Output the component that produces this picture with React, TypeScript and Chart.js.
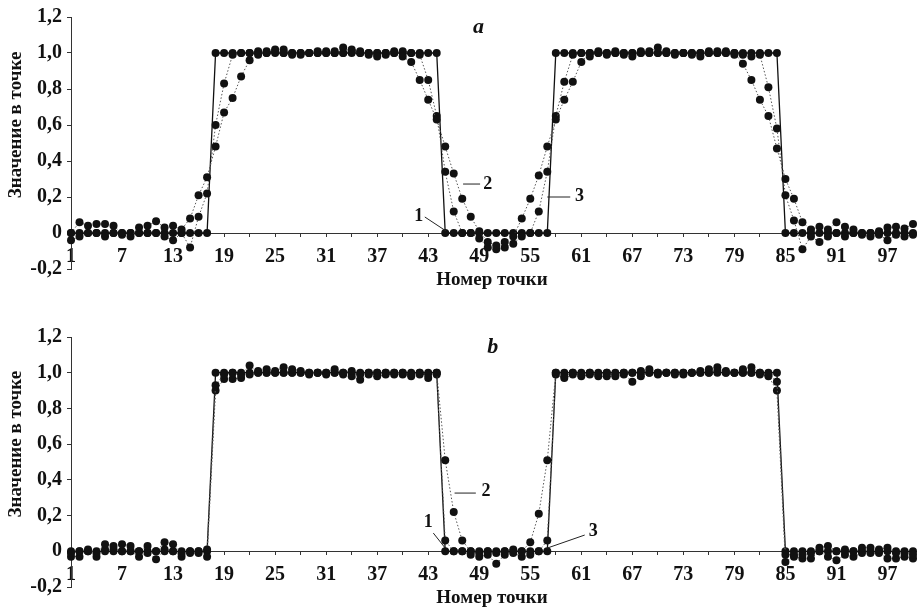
import React, { useEffect, useRef } from 'react';
import { Chart, registerables } from 'chart.js';

Chart.register(...registerables);

// point numbers (categories) 1..100
const POINTS: number[] = Array.from({ length: 100 }, (_, i) => i + 1);
const X_TICK_LABELS: number[] = [1, 7, 13, 19, 25, 31, 37, 43, 49, 55, 61, 67, 73, 79, 85, 91, 97];
const Y_MIN = -0.2;
const Y_MAX = 1.2;
const Y_STEP = 0.2;

// series 1: ideal signal (both panels)
const IDEAL: number[] = [
  0, 0, 0, 0, 0, 0, 0, 0, 0, 0,
  0, 0, 0, 0, 0, 0, 0, 1, 1, 1,
  1, 1, 1, 1, 1, 1, 1, 1, 1, 1,
  1, 1, 1, 1, 1, 1, 1, 1, 1, 1,
  1, 1, 1, 1, 0, 0, 0, 0, 0, 0,
  0, 0, 0, 0, 0, 0, 0, 1, 1, 1,
  1, 1, 1, 1, 1, 1, 1, 1, 1, 1,
  1, 1, 1, 1, 1, 1, 1, 1, 1, 1,
  1, 1, 1, 1, 0, 0, 0, 0, 0, 0,
  0, 0, 0, 0, 0, 0, 0, 0, 0, 0,
];

// panel a, series 2
const A_S2: number[] = [
  0.00, 0.06, 0.04, 0.05, 0.05, 0.04, 0.00, -0.02, 0.03, 0.04,
  0.065, 0.03, 0.04, 0.02, 0.08, 0.21, 0.31, 0.48, 0.67, 0.75,
  0.87, 0.96, 0.99, 1.01, 1.01, 1.00, 0.99, 1.00, 1.00, 1.01,
  1.00, 1.01, 1.03, 1.01, 1.00, 0.99, 0.98, 1.00, 1.00, 0.98,
  0.95, 0.85, 0.74, 0.63, 0.48, 0.33, 0.19, 0.09, 0.01, -0.05,
  -0.07, -0.05, -0.02, 0.08, 0.19, 0.32, 0.48, 0.63, 0.74, 0.84,
  0.95, 1.00, 1.00, 0.99, 1.01, 1.00, 0.98, 1.00, 1.01, 1.03,
  1.00, 1.00, 1.00, 0.99, 0.98, 1.00, 1.01, 1.01, 1.00, 0.94,
  0.85, 0.74, 0.65, 0.47, 0.30, 0.19, 0.06, 0.02, 0.035, 0.02,
  0.06, 0.035, 0.02, 0.00, 0.00, 0.01, 0.03, 0.035, 0.025, 0.05,
];

// panel a, series 3
const A_S3: number[] = [
  -0.04, -0.02, 0.00, 0.00, -0.02, 0.00, -0.01, 0.00, 0.00, 0.00,
  0.00, -0.02, -0.04, 0.00, -0.08, 0.09, 0.22, 0.60, 0.83, 0.99,
  1.00, 1.00, 1.01, 1.00, 1.02, 1.02, 1.00, 0.99, 1.00, 1.00,
  1.01, 1.00, 1.00, 1.02, 1.01, 1.00, 1.00, 0.99, 1.01, 1.01,
  1.00, 0.99, 0.85, 0.65, 0.34, 0.12, 0.00, 0.00, -0.03, -0.08,
  -0.09, -0.08, -0.06, -0.02, 0.00, 0.12, 0.34, 0.65, 0.84, 0.99,
  1.00, 0.98, 1.01, 1.00, 1.00, 0.99, 1.00, 1.01, 1.00, 1.00,
  1.01, 0.99, 1.00, 1.00, 1.00, 1.01, 1.00, 1.00, 0.99, 0.99,
  0.98, 0.99, 0.81, 0.58, 0.21, 0.07, -0.09, -0.02, -0.05, -0.02,
  0.00, -0.02, 0.00, -0.01, -0.02, -0.01, -0.04, -0.01, -0.02, -0.01,
];

// panel b, series 2
const B_S2: number[] = [
  -0.01, 0.00, 0.01, -0.01, 0.04, 0.03, 0.04, 0.03, 0.00, 0.03,
  0.00, 0.05, 0.04, -0.01, 0.00, 0.00, 0.01, 0.93, 0.99, 1.00,
  0.99, 1.04, 1.00, 1.02, 1.01, 1.03, 1.02, 1.01, 1.00, 1.00,
  1.00, 1.02, 1.00, 1.01, 0.99, 1.00, 1.00, 1.00, 1.00, 1.00,
  0.99, 1.00, 0.97, 1.00, 0.51, 0.22, 0.06, 0.00, -0.01, 0.00,
  -0.01, 0.00, 0.01, 0.00, 0.05, 0.21, 0.51, 1.00, 0.98, 1.00,
  0.99, 1.00, 0.99, 1.00, 0.99, 1.00, 1.00, 1.01, 1.02, 1.00,
  1.00, 0.99, 1.00, 1.00, 1.01, 1.02, 1.03, 1.01, 1.00, 1.02,
  1.03, 1.00, 0.99, 0.95, -0.02, -0.02, -0.02, -0.01, 0.02, 0.03,
  0.00, 0.01, 0.00, 0.02, 0.02, 0.01, 0.02, -0.01, -0.01, -0.02,
];

// panel b, series 3
const B_S3: number[] = [
  -0.03, -0.03, 0.00, -0.03, 0.01, 0.01, 0.00, 0.00, -0.03, -0.01,
  -0.045, 0.01, 0.00, -0.03, -0.01, -0.01, -0.03, 0.90, 0.965, 0.965,
  0.97, 0.99, 1.01, 1.00, 1.00, 1.00, 1.00, 1.00, 0.99, 1.00,
  0.99, 1.00, 0.99, 0.98, 0.96, 0.99, 0.98, 0.99, 0.99, 0.99,
  0.98, 0.99, 0.99, 0.99, 0.06, 0.00, 0.00, -0.02, -0.03, -0.02,
  -0.07, -0.02, -0.01, -0.03, -0.02, 0.00, 0.06, 0.99, 0.97, 0.99,
  0.98, 0.99, 0.98, 0.98, 0.98, 0.99, 0.95, 0.98, 1.00, 0.99,
  1.00, 1.00, 0.99, 1.00, 1.00, 1.00, 1.01, 1.00, 1.00, 1.00,
  1.00, 0.99, 0.98, 0.90, -0.06, -0.03, -0.04, -0.04, 0.00, -0.03,
  -0.05, -0.02, -0.03, -0.01, -0.01, -0.01, -0.04, -0.04, -0.03, -0.04,
];

const SERIF = "'Liberation Serif', 'DejaVu Serif', serif";
const INK = '#111';

type Annot = { text: string; tx: number; ty: number; line: [number, number, number, number] };

const ANNOTS_A: Annot[] = [
  { text: '1', tx: 41.9, ty: 0.094, line: [42.6, 0.089, 45.1, 0.011] },
  { text: '2', tx: 50.0, ty: 0.272, line: [47.1, 0.272, 49.1, 0.272] },
  { text: '3', tx: 60.8, ty: 0.206, line: [57.0, 0.2, 59.7, 0.2] },
];
const ANNOTS_B: Annot[] = [
  { text: '1', tx: 43.0, ty: 0.164, line: [43.6, 0.102, 45.0, 0.018] },
  { text: '2', tx: 49.8, ty: 0.338, line: [46.1, 0.326, 48.6, 0.326] },
  { text: '3', tx: 62.4, ty: 0.114, line: [57.0, 0.018, 61.4, 0.091] },
];

function fmtY(v: number): string {
  if (Math.abs(v) < 1e-9) return '0';
  return v.toFixed(1).replace('.', ',');
}

function makeOverlay(letter: string, lx: number, ly: number, annots: Annot[]) {
  return {
    id: 'overlay',
    afterDraw(chart: any) {
      const { ctx, scales } = chart;
      const xs = scales.x;
      const ys = scales.y;
      const px = (i: number) => xs.left + ((i - 1) / (POINTS.length - 1)) * (xs.right - xs.left);
      ctx.save();
      ctx.fillStyle = INK;
      ctx.textAlign = 'center';
      ctx.textBaseline = 'middle';
      // panel letter
      ctx.font = `italic bold 22px ${SERIF}`;
      ctx.fillText(letter, px(lx), ys.getPixelForValue(ly));
      // annotations
      ctx.font = `bold 18px ${SERIF}`;
      ctx.strokeStyle = '#222';
      ctx.lineWidth = 1;
      for (const a of annots) {
        ctx.fillText(a.text, px(a.tx), ys.getPixelForValue(a.ty));
        ctx.beginPath();
        ctx.moveTo(px(a.line[0]), ys.getPixelForValue(a.line[1]));
        ctx.lineTo(px(a.line[2]), ys.getPixelForValue(a.line[3]));
        ctx.stroke();
      }
      // y axis title
      ctx.save();
      ctx.translate(16.5, ys.getPixelForValue(0.6));
      ctx.rotate(-Math.PI / 2);
      ctx.font = `bold 19px ${SERIF}`;
      ctx.fillText('Значение в точке', 0, 0);
      ctx.restore();
      ctx.restore();
    },
  };
}

type PanelProps = {
  s2: number[];
  s3: number[];
  letter: string;
  letterX: number;
  letterY: number;
  annots: Annot[];
  height: number;
  padTop: number;
  padBottom: number;
};

function Panel(p: PanelProps) {
  const ref = useRef<HTMLCanvasElement | null>(null);
  useEffect(() => {
    if (!ref.current) return;
    const font = { family: SERIF, size: 20, weight: 'bold' };
    const pointStyle = {
      pointRadius: 4,
      pointHoverRadius: 4,
      pointBackgroundColor: INK,
      pointBorderColor: INK,
      pointBorderWidth: 0,
    };
    const chart = new Chart(ref.current, {
      type: 'line',
      data: {
        labels: POINTS.map(String),
        datasets: [
          { label: '2', data: p.s2, borderColor: '#555', borderWidth: 1, borderDash: [1.5, 2], tension: 0, clip: false, ...pointStyle },
          { label: '3', data: p.s3, borderColor: '#555', borderWidth: 1, borderDash: [1.5, 2], tension: 0, clip: false, ...pointStyle },
          { label: '1', data: IDEAL, borderColor: INK, borderWidth: 1.3, tension: 0, clip: false, ...pointStyle },
        ],
      },
      options: {
        responsive: false,
        animation: false,
        events: [],
        layout: { padding: { left: 0, right: 4.5, top: p.padTop, bottom: p.padBottom } },
        plugins: {
          legend: { display: false },
          tooltip: { enabled: false },
          title: {
            display: true,
            text: 'Номер точки',
            position: 'bottom',
            fullSize: false,
            color: INK,
            font: { family: SERIF, size: 19, weight: 'bold', lineHeight: 1 },
            padding: { top: 1.5, bottom: 0 },
          },
        },
        scales: {
          x: {
            type: 'category',
            position: { y: 0 },
            offset: false,
            grid: {
              drawOnChartArea: false,
              drawTicks: true,
              tickLength: 3,
              color: (c: any) => (c.index % 3 === 0 ? '#333' : 'rgba(0,0,0,0)'),
            },
            border: { display: true, color: '#333', dash: [2, 2], width: 1 },
            ticks: {
              autoSkip: false,
              maxRotation: 0,
              minRotation: 0,
              padding: 9,
              color: INK,
              font,
              callback: (_v: any, i: number) => (X_TICK_LABELS.includes(POINTS[i]) ? String(POINTS[i]) : ''),
            },
          },
          y: {
            min: Y_MIN,
            max: Y_MAX,
            grid: { drawOnChartArea: false, drawTicks: true, tickLength: 4, color: '#333' },
            border: { display: true, color: '#333', dash: [2, 2], width: 1 },
            ticks: { stepSize: Y_STEP, padding: 5, color: INK, font, callback: (v: any) => fmtY(Number(v)) },
            afterFit: (s: any) => {
              s.width = 71;
            },
          },
        },
      } as any,
      plugins: [makeOverlay(p.letter, p.letterX, p.letterY, p.annots)],
    });
    return () => chart.destroy();
  }, []);
  return <canvas ref={ref} width={922} height={p.height} style={{ display: 'block', width: 922, height: p.height }} />;
}

export default function App() {
  return (
    <div style={{ position: 'absolute', left: 0, top: 0, width: 922, height: 608, background: '#fff' }}>
      <Panel s2={A_S2} s3={A_S3} letter="a" letterX={48.9} letterY={1.14} annots={ANNOTS_A} height={300} padTop={17} padBottom={10.5} />
      <Panel s2={B_S2} s3={B_S3} letter="b" letterX={50.6} letterY={1.145} annots={ANNOTS_B} height={308} padTop={37} padBottom={0.5} />
    </div>
  );
}
